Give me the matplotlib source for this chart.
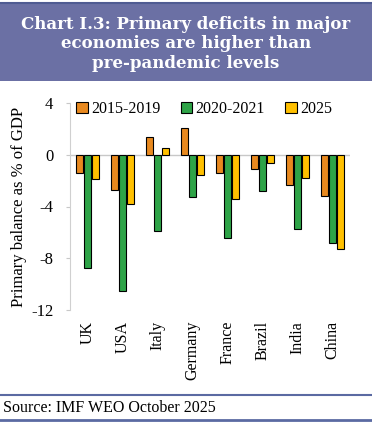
import numpy as np
import matplotlib
matplotlib.use('Agg')
import matplotlib.pyplot as plt
from matplotlib.patches import Rectangle
from matplotlib.lines import Line2D

# Data (primary balance, % of GDP)
countries = ['UK', 'USA', 'Italy', 'Germany', 'France', 'Brazil', 'India', 'China']
series_names = ['2015-2019', '2020-2021', '2025']
pb_2015_2019 = [-1.4, -2.7, 1.4, 2.1, -1.4, -1.1, -2.3, -3.2]
pb_2020_2021 = [-8.75, -10.55, -5.9, -3.3, -6.4, -2.8, -5.75, -6.8]
pb_2025 = [-1.9, -3.8, 0.5, -1.6, -3.4, -0.6, -1.8, -7.3]
yticks = [4, 0, -4, -8, -12]

colors = ['#E8891F', '#2EA347', '#FFC000']
band_col = '#6B70A4'
line_col = '#5B6AA2'
serif = 'Liberation Serif'

fig = plt.figure(figsize=(3.72, 4.22), dpi=100)

# title band
fig.patches.append(Rectangle((0, 1 - 81/422), 1, 78/422, transform=fig.transFigure,
                             facecolor=band_col, edgecolor='none', zorder=0))
fig.lines.append(Line2D([0, 1], [1 - 3/422, 1 - 3/422], transform=fig.transFigure,
                        color='#4F5B92', lw=1.5))
fig.text(0.5, 1 - 44/422, 'Chart I.3: Primary deficits in major\neconomies are higher than\npre-pandemic levels',
         ha='center', va='center', color='white', fontsize=12, fontweight='bold',
         family='DejaVu Serif', linespacing=1.2)

ax = fig.add_axes([70/372, 1 - 310/422, 280/372, 207/422])
x = np.arange(len(countries))
w = 0.2
gap = 0.22
for i, vals in enumerate([pb_2015_2019, pb_2020_2021, pb_2025]):
    ax.bar(x + (i - 1) * gap, vals, width=w, color=colors[i], edgecolor='black',
           linewidth=0.8, label=series_names[i], zorder=3)

ax.axhline(0, color='#C8C8C8', lw=1, zorder=1)
ax.set_ylim(-12, 4)
ax.set_xlim(-0.5, len(countries) - 0.5)
ax.set_yticks(yticks)
ax.set_yticklabels([str(t) for t in yticks], family=serif, fontsize=12)
ax.tick_params(axis='y', length=3, color='#C8C8C8', pad=9)
ax.set_xticks(x)
ax.set_xticklabels(countries, rotation=90, family=serif, fontsize=11.5)
ax.tick_params(axis='x', length=0, pad=8)
for s in ['top', 'right', 'bottom']:
    ax.spines[s].set_visible(False)
ax.spines['left'].set_color('#D0D0D0')
ax.set_ylabel('Primary balance as % of GDP', family=serif, fontsize=12, labelpad=3)

leg = ax.legend(loc='upper left', bbox_to_anchor=(0.0, 1.04), ncol=3, frameon=False,
                prop={'family': serif, 'size': 11.5}, handlelength=0.7, handleheight=0.7,
                handletextpad=0.2, columnspacing=1.3, borderaxespad=0)

# source and rules
fig.lines.append(Line2D([0, 1], [1 - 395/422, 1 - 395/422], transform=fig.transFigure,
                        color=line_col, lw=1.5))
fig.lines.append(Line2D([0, 1], [1 - 420/422, 1 - 420/422], transform=fig.transFigure,
                        color=line_col, lw=2))
fig.text(3/372, 1 - 408/422, 'Source: IMF WEO October 2025', ha='left', va='center',
         family=serif, fontsize=11.5)

fig.savefig('out.png', dpi=100)
